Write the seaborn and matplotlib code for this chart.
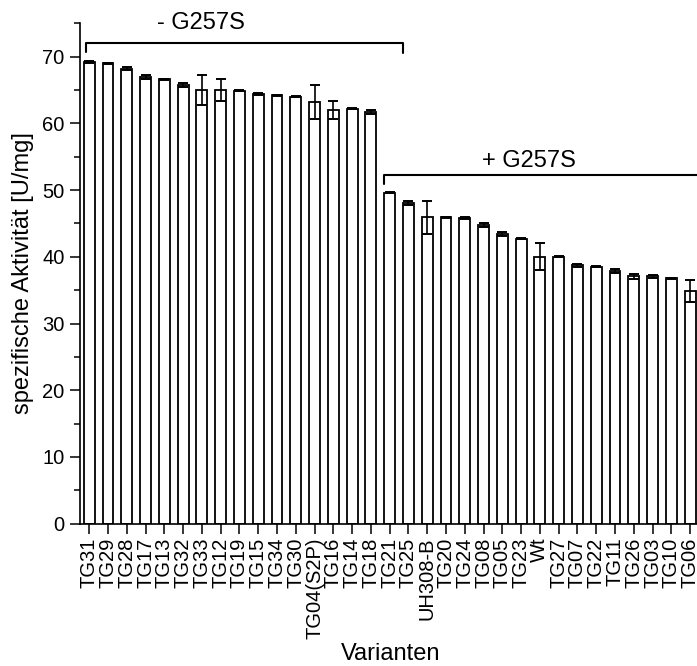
import numpy as np
import pandas as pd
import matplotlib
matplotlib.use("Agg")
import matplotlib.pyplot as plt
import seaborn as sns
from matplotlib.ticker import MultipleLocator

# ---- data ----
varianten = ["TG31", "TG29", "TG28", "TG17", "TG13", "TG32", "TG33", "TG12",
             "TG19", "TG15", "TG34", "TG30", "TG04(S2P)", "TG16", "TG14", "TG18",
             "TG21", "TG25", "UH308-B", "TG20", "TG24", "TG08", "TG05", "TG23",
             "Wt", "TG27", "TG07", "TG22", "TG11", "TG26", "TG03", "TG10", "TG06"]
aktivitaet = [69.2, 69.0, 68.2, 66.9, 66.6, 65.8, 65.0, 65.0,
              64.9, 64.4, 64.2, 64.0, 63.2, 62.0, 62.2, 61.7,
              49.6, 48.0, 45.9, 45.9, 45.8, 44.7, 43.4, 42.7,
              40.0, 40.0, 38.7, 38.5, 37.9, 37.1, 37.1, 36.8, 34.9]
fehler = [0.2, 0.1, 0.2, 0.3, 0.1, 0.3, 2.2, 1.6,
          0.1, 0.1, 0.1, 0.1, 2.5, 1.3, 0.1, 0.3,
          0.1, 0.3, 2.5, 0.1, 0.1, 0.3, 0.3, 0.1,
          2.05, 0.1, 0.2, 0.1, 0.3, 0.4, 0.2, 0.1, 1.65]
gruppen = ["- G257S", "+ G257S"]

sns.set_style("ticks")
plt.rcParams['font.family'] = ['Liberation Sans', 'DejaVu Sans']
plt.rcParams.update({'text.color': 'black', 'axes.labelcolor': 'black',
                     'xtick.color': 'black', 'ytick.color': 'black',
                     'axes.edgecolor': 'black'})

df = pd.DataFrame({"Variante": varianten, "Aktivitaet": aktivitaet})

fig = plt.figure(figsize=(6.97, 6.66), dpi=100)
ax = fig.add_axes([80 / 697, (666 - 523.6) / 666, 621 / 697, 500.2 / 666])

sns.barplot(data=df, x="Variante", y="Aktivitaet", order=varianten,
            color="white", edgecolor="black", linewidth=1.3, width=0.58,
            errorbar=None, saturation=1, ax=ax)
pos = np.arange(len(varianten))
ax.errorbar(pos, aktivitaet, yerr=fehler, fmt='none', ecolor='black',
            elinewidth=1.2, capsize=3.6, capthick=1.4, zorder=5)

ax.set_xlim(-0.49, 32.58)
ax.set_ylim(0, 75)
ax.yaxis.set_major_locator(MultipleLocator(10))
ax.yaxis.set_minor_locator(MultipleLocator(5))
ax.tick_params(axis='y', which='major', length=7, width=1.1, labelsize=14.5, pad=4, direction='out')
ax.tick_params(axis='y', which='minor', length=4, width=1.1, direction='out')
ax.tick_params(axis='x', which='major', length=7, width=1.1, labelsize=14.5, pad=3,
               direction='out', labelrotation=90)
for s in ['top', 'right']:
    ax.spines[s].set_visible(False)
for s in ['left', 'bottom']:
    ax.spines[s].set_linewidth(1.2)
    ax.spines[s].set_color('black')

ax.set_xlabel("Varianten", fontsize=17, labelpad=3)
ax.set_ylabel("spezifische Aktivität [U/mg]", fontsize=17, labelpad=6)

# brackets
ax.plot([-0.17, -0.17, 16.7, 16.7], [70.75, 72.1, 72.1, 70.6], color='black', lw=1.5, clip_on=False)
ax.plot([15.7, 15.7, 34], [50.9, 52.3, 52.3], color='black', lw=1.5, clip_on=False)
ax.text(5.93, 74.1, gruppen[0], ha='center', va='baseline', fontsize=17)
ax.text(23.4, 53.4, gruppen[1], ha='center', va='baseline', fontsize=17)

fig.savefig("out.png", dpi=100)
